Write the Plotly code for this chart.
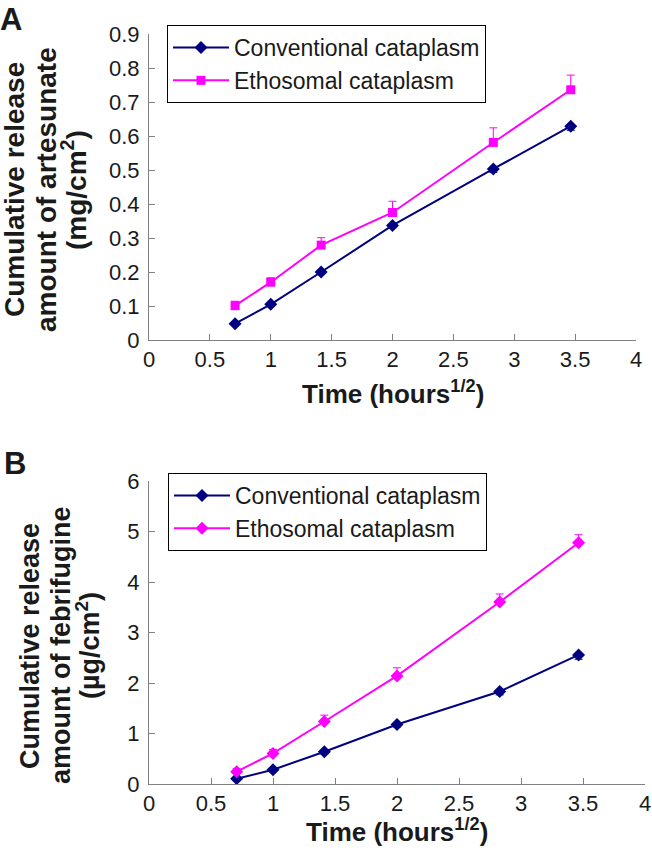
import plotly.graph_objects as go

# x values: square root of time (hours^1/2)
time_sqrt = [0.707, 1.0, 1.414, 2.0, 2.828, 3.464]

# Panel A: artesunate (mg/cm2)
a_conv = [0.048, 0.105, 0.200, 0.337, 0.503, 0.629]
a_conv_err = [0.004, 0.005, 0.005, 0.006, 0.010, 0.012]
a_etho = [0.101, 0.170, 0.279, 0.375, 0.581, 0.736]
a_etho_err = [0.013, 0.013, 0.022, 0.033, 0.043, 0.043]

# Panel B: febrifugine (ug/cm2)
b_conv = [0.105, 0.283, 0.639, 1.179, 1.831, 2.556]
b_conv_err = [0.03, 0.03, 0.04, 0.05, 0.066, 0.086]
b_etho = [0.244, 0.606, 1.238, 2.141, 3.603, 4.776]
b_etho_err = [0.066, 0.08, 0.125, 0.16, 0.16, 0.16]

x_ticks = [0, 0.5, 1, 1.5, 2, 2.5, 3, 3.5, 4]
x_ticklabels = ["0", "0.5", "1", "1.5", "2", "2.5", "3", "3.5", "4"]
a_yticks = [0, 0.1, 0.2, 0.3, 0.4, 0.5, 0.6, 0.7, 0.8, 0.9]
a_yticklabels = ["0", "0.1", "0.2", "0.3", "0.4", "0.5", "0.6", "0.7", "0.8", "0.9"]
b_yticks = [0, 1, 2, 3, 4, 5, 6]
b_yticklabels = ["0", "1", "2", "3", "4", "5", "6"]

a_ytitle = ["Cumulative release", "amount of artesunate", "(mg/cm<sup>2</sup>)"]
b_ytitle = ["Cumulative release", "amount of febrifugine", "(µg/cm<sup>2</sup>)"]
x_title = "Time (hours<sup>1/2</sup>)"

NAVY = "#000080"
MAG = "#FF00FF"
TXT = "#1a1a1a"
W, H = 652, 854
FONT = "Liberation Sans, Arial, sans-serif"

fig = go.Figure()

def add(x, y, err, color, symbol, size, name, xa, ya, legend, up):
    zeros = [0] * len(err)
    ed = dict(type="data", symmetric=False,
              array=err if up else zeros, arrayminus=zeros if up else err,
              color=color, thickness=1, width=4)
    fig.add_trace(go.Scatter(
        x=x, y=y, mode="lines+markers", name=name,
        line=dict(color=color, width=2),
        marker=dict(symbol=symbol, size=size, color=color),
        error_y=ed, xaxis=xa, yaxis=ya, legend=legend))

add(time_sqrt, a_conv, a_conv_err, NAVY, "diamond", 10, "Conventional cataplasm", "x", "y", "legend", False)
add(time_sqrt, a_etho, a_etho_err, MAG, "square", 9, "Ethosomal cataplasm", "x", "y", "legend", True)
add(time_sqrt, b_conv, b_conv_err, NAVY, "diamond", 10, "Conventional cataplasm", "x2", "y2", "legend2", False)
add(time_sqrt, b_etho, b_etho_err, MAG, "diamond", 10, "Ethosomal cataplasm", "x2", "y2", "legend2", True)

axis_common = dict(showline=True, linecolor="#808080", linewidth=1, ticks="inside",
                   ticklen=6, tickcolor="#808080", showgrid=False, zeroline=False,
                   ticklabeloverflow="allow",
                   tickfont=dict(family=FONT, size=22, color=TXT))

legend_common = dict(xanchor="left", yanchor="top", bordercolor="black", borderwidth=1,
                     bgcolor="white", itemwidth=56, tracegroupgap=0,
                     font=dict(family=FONT, size=23, color=TXT))

fig.update_layout(
    width=W, height=H, margin=dict(l=0, r=0, t=0, b=0, autoexpand=False),
    plot_bgcolor="white", paper_bgcolor="white",
    font=dict(family=FONT, color=TXT),
    xaxis=dict(domain=[149/W, 636/W], range=[0, 4], anchor="y",
               tickvals=x_ticks, ticktext=x_ticklabels, **axis_common),
    yaxis=dict(domain=[1-340/H, 1-34/H], range=[0, 0.9], anchor="x",
               tickvals=a_yticks, ticktext=a_yticklabels, ticklabelstandoff=4, **axis_common),
    xaxis2=dict(domain=[149/W, 645/W], range=[0, 4], anchor="y2",
                tickvals=x_ticks, ticktext=x_ticklabels, **axis_common),
    yaxis2=dict(domain=[1-784/H, 1-481/H], range=[0, 6], anchor="x2",
                tickvals=b_yticks, ticktext=b_yticklabels, ticklabelstandoff=4, **axis_common),
    legend=dict(x=167/W, y=1-25/H, **legend_common),
    legend2=dict(x=168/W, y=1-473/H, **legend_common),
)

def txt(text, x, y, size, angle=0, xanchor="center", yanchor="middle"):
    return dict(text=text, x=x/W, y=1-y/H, xref="paper", yref="paper",
                xanchor=xanchor, yanchor=yanchor, textangle=angle, showarrow=False,
                font=dict(family=FONT, size=size, color=TXT))

ann = [
    txt("<b>A</b>", -2, 0, 31, xanchor="left", yanchor="top"),
    txt("<b>B</b>", 2, 444, 31, xanchor="left", yanchor="top"),
]
for line, xc in zip(a_ytitle, [14, 46, 74]):
    ann.append(txt("<b>" + line + "</b>", xc, 190, 28, angle=-90))
for line, xc in zip(b_ytitle, [30, 61, 88]):
    ann.append(txt("<b>" + line + "</b>", xc, 646, 27, angle=-90))
ann.append(txt("<b>" + x_title + "</b>", (149+636)/2, 392, 26))
ann.append(txt("<b>" + x_title + "</b>", (149+645)/2, 830, 26))
fig.update_layout(annotations=ann)

fig.write_html("out.html", config={"displayModeBar": False},
               post_script="document.body.style.margin='0px';")
